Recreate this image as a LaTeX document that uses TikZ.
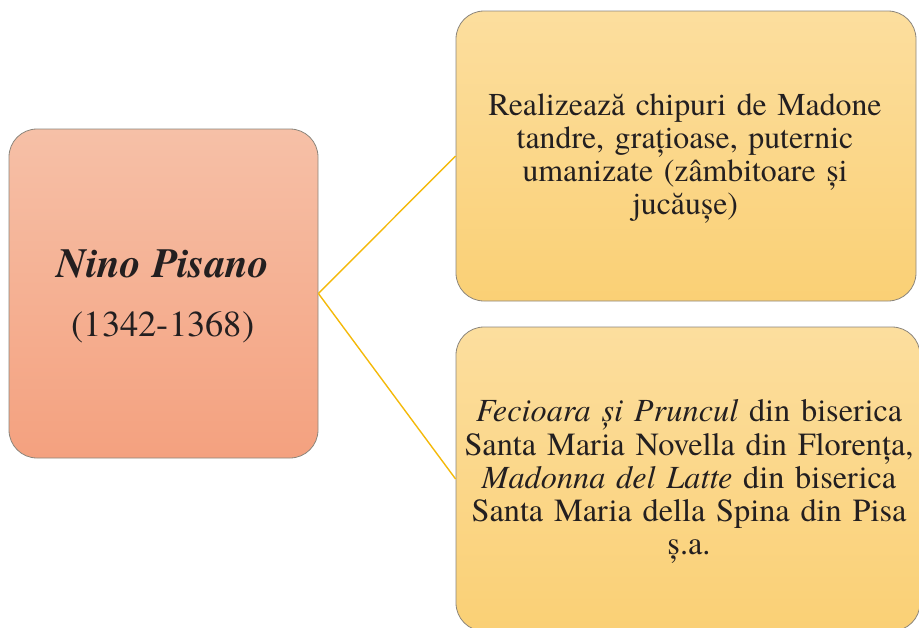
\documentclass[tikz,border=0pt]{standalone}
\usepackage{fontspec}
\setmainfont{texgyretermes}[Extension=.otf, UprightFont=*-regular, BoldFont=*-bold, ItalicFont=*-italic, BoldItalicFont=*-bolditalic]
\definecolor{salmonTop}{RGB}{246,192,167}
\definecolor{salmonBot}{RGB}{244,161,127}
\definecolor{yelTop}{RGB}{252,222,158}
\definecolor{yelBot}{RGB}{250,208,117}
\definecolor{edge}{RGB}{140,134,124}
\definecolor{conn}{RGB}{244,185,10}
\definecolor{ink}{RGB}{35,31,32}
\tikzset{
  boxshape/.style={draw=edge, line width=0.8pt, rounded corners=28pt, inner sep=0pt, shape=rectangle},
  salmonbox/.style={boxshape, top color=salmonTop, bottom color=salmonBot},
  yellowbox/.style={boxshape, top color=yelTop, bottom color=yelBot},
  txt/.style={text=ink, inner sep=0pt, align=center},
  link/.style={draw=conn, line width=1.4pt}
}
\begin{document}
\begin{tikzpicture}[x=1pt,y=-1pt]
\useasboundingbox (0,0) rectangle (919,627);
\node[salmonbox, minimum width=309pt, minimum height=329pt] (L) at (163.5,293.5) {};
\node[yellowbox, minimum width=460pt, minimum height=290pt] (T) at (686,156) {};
\node[yellowbox, minimum width=464pt, minimum height=304pt] (B) at (688,479) {};
\draw[link] (L.east) -- (T.west);
\draw[link] (L.east) -- (B.west);
\node[txt, anchor=base, font=\fontsize{41.5}{48}\selectfont\bfseries\itshape] (ln) at (163,277.7) {Nino Pisano};
\node[txt, anchor=base, font=\fontsize{36.5}{44}\selectfont] (ld) at (163,336.7) {(1342-1368)};
\node[txt, anchor=base, text width=450pt, font=\fontsize{31.8}{33.3}\selectfont] (tt) at (685,115) {Realizează chipuri de Madone\\ tandre, grațioase, puternic\\ umanizate (zâmbitoare și\\ jucăușe)};
\node[txt, anchor=base, text width=452pt, font=\fontsize{32.3}{33.3}\selectfont] (bt) at (689,421.7) {\textit{Fecioara și Pruncul} din biserica\\ Santa Maria Novella din Florența,\\ \textit{Madonna del Latte} din biserica\\ Santa Maria della Spina din Pisa\\ ș.a.};
\end{tikzpicture}
\end{document}
